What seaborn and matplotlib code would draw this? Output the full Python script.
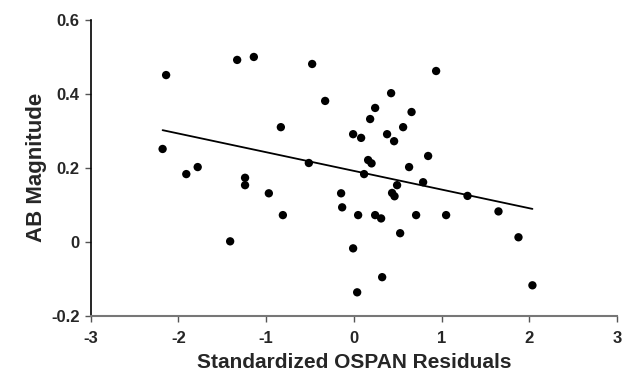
import matplotlib
matplotlib.use("Agg")
import matplotlib.pyplot as plt
import seaborn as sns
import pandas as pd

ospan_resid = [
    -2.14, -1.33, -1.14, -0.475, -0.327, -0.832, -2.18, -1.91, -1.78, -1.24,
    -1.24, -0.969, -0.809, -1.41, -0.513, -0.145, -0.133,
    0.938, 0.425, 0.243, 0.186, 0.658, 0.562, -0.008, 0.083, 0.379, 0.459,
    0.847, 0.163, 0.202, 0.630, 0.117, 0.790, 0.493, 0.436, 0.464, 1.296,
    1.649, 0.049, 0.243, 0.311, 0.710, 1.052, 0.528, 1.877, -0.008, 0.323,
    0.038, 2.036,
]
ab_magnitude = [
    0.451, 0.492, 0.500, 0.481, 0.381, 0.310, 0.251, 0.183, 0.202, 0.173,
    0.153, 0.131, 0.072, 0.001, 0.213, 0.131, 0.093,
    0.462, 0.402, 0.362, 0.332, 0.351, 0.310, 0.291, 0.281, 0.291, 0.272,
    0.232, 0.221, 0.212, 0.202, 0.183, 0.161, 0.153, 0.132, 0.123, 0.124,
    0.082, 0.072, 0.072, 0.063, 0.072, 0.072, 0.023, 0.012, -0.018, -0.096,
    -0.137, -0.118,
]
x_ticks = [-3, -2, -1, 0, 1, 2, 3]
y_ticks = [-0.2, 0, 0.2, 0.4, 0.6]
y_tick_labels = ["-0.2", "0", "0.2", "0.4", "0.6"]

df = pd.DataFrame({"x": ospan_resid, "y": ab_magnitude})

sns.set_style("ticks")
plt.rcParams["font.family"] = ["Liberation Sans", "DejaVu Sans"]

fig = plt.figure(figsize=(6.31, 3.72), dpi=100)
ax = fig.add_axes([0.1437, 0.1516, 0.8341, 0.7946])

sns.regplot(data=df, x="x", y="y", ax=ax, ci=None, truncate=True,
            scatter_kws=dict(s=36, color="black", edgecolor="none", alpha=1),
            line_kws=dict(color="black", lw=1.3))

ax.set_xlim(-3, 3)
ax.set_ylim(-0.2, 0.6)
ax.set_xticks(x_ticks)
ax.set_xticklabels([str(t) for t in x_ticks], fontweight="bold", fontsize=12)
ax.set_yticks(y_ticks)
ax.set_yticklabels(y_tick_labels, fontweight="bold", fontsize=12)
ax.set_xlabel("Standardized OSPAN Residuals", fontweight="bold", fontsize=15, labelpad=5)
ax.set_ylabel("AB Magnitude", fontweight="bold", fontsize=16, labelpad=3)

for s in ["top", "right"]:
    ax.spines[s].set_visible(False)
ax.spines["left"].set_color("black")
ax.spines["left"].set_linewidth(1.2)
ax.spines["bottom"].set_color("#777777")
ax.spines["bottom"].set_linewidth(1.5)
ax.tick_params(axis="both", length=4, width=1, color="#555555")
ax.tick_params(axis="x", pad=7)
ax.tick_params(axis="y", pad=4)

fig.savefig("out.png", dpi=100)
